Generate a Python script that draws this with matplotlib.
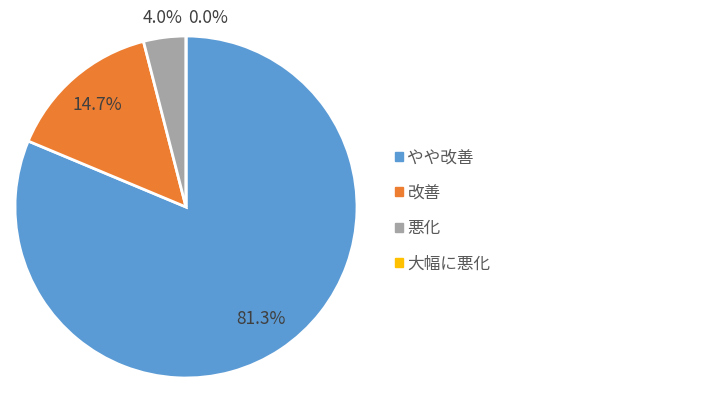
import numpy as np
import matplotlib
matplotlib.use("Agg")
from matplotlib import pyplot as plt

plt.rcParams['font.family'] = ['Noto Sans CJK JP', 'DejaVu Sans']

# data
labels = ['やや改善', '改善', '悪化', '大幅に悪化']
values = [81.3, 14.7, 4.0, 0.0]
colors = ['#5B9BD5', '#ED7D31', '#A5A5A5', '#FFC000']

fig = plt.figure(figsize=(7.2, 4.03), dpi=100)
ax = fig.add_axes([15/720, 25/403, 342/720, 342/403])

wedges, texts, autotexts = ax.pie(values, colors=colors, startangle=90, counterclock=False,
                                  autopct='%.1f%%', pctdistance=0.79,
                                  wedgeprops=dict(edgecolor='white', linewidth=2),
                                  textprops=dict(fontsize=12.5, color='#404040'))
ax.set_xlim(-1, 1)
ax.set_ylim(-1, 1)
ax.set_aspect('equal')

# small slices get their labels outside the pie, above
for i, (w, t) in enumerate(zip(wedges, autotexts)):
    if values[i] < 5:
        ang = np.deg2rad((w.theta1 + w.theta2) / 2)
        x = 1.11 * np.cos(ang)
        if values[i] == 0:
            x += 0.13
        t.set_position((x, 1.105))

handles = [plt.Rectangle((0, 0), 1, 1, color=c) for c in colors]
fig.legend(handles, labels, loc='center left', bbox_to_anchor=(380/720, 1 - 211/403),
           frameon=False, fontsize=12, handlelength=0.45, handleheight=0.45,
           handletextpad=0.3, labelspacing=1.1, labelcolor='#595959')

fig.savefig('out.png', dpi=100)
